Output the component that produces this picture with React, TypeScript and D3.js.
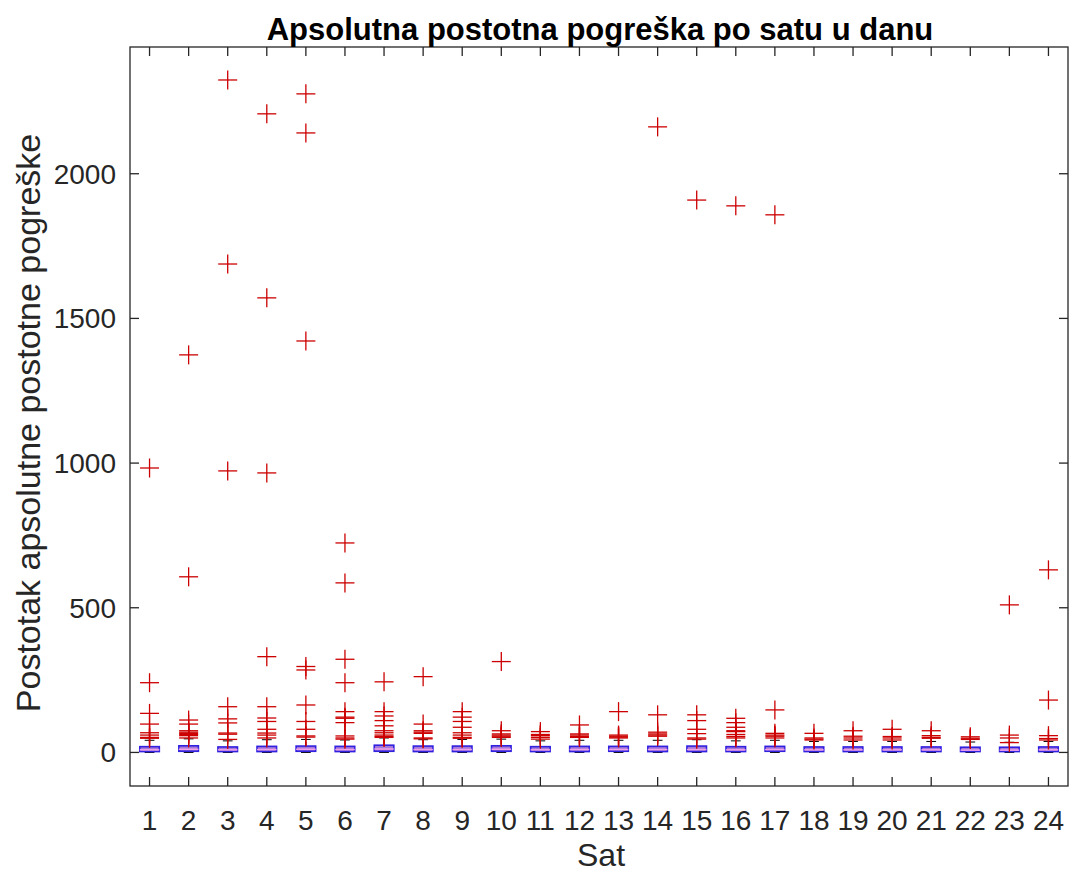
import React from "react";
import * as d3 from "d3";

const hours = Array.from({ length: 24 }, (_, i) => i + 1);
const q1 = [3, 4, 3, 3, 4, 3, 4, 3, 3, 4, 3, 3, 4, 3, 3, 3, 4, 3, 3, 3, 3, 3, 3, 3];
const medians = [9, 11, 9, 10, 11, 10, 12, 10, 10, 11, 9, 10, 10, 10, 10, 9, 10, 9, 9, 9, 9, 8, 8, 9];
const q3 = [20, 23, 19, 21, 22, 21, 25, 22, 22, 23, 20, 21, 21, 21, 22, 20, 21, 19, 19, 19, 19, 18, 18, 19];
const whiskerLow = [0, 0, 0, 0, 0, 0, 0, 0, 0, 0, 0, 0, 0, 0, 0, 0, 0, 0, 0, 0, 0, 0, 0, 0];
const whiskerHigh = [42, 47, 40, 44, 45, 43, 50, 44, 45, 46, 40, 42, 42, 42, 44, 40, 42, 38, 38, 38, 38, 36, 35, 38];
const outliers: number[][] = [
  [983, 241, 135, 98, 68, 60, 52, 49],
  [1374, 607, 112, 98, 75, 70, 66, 62, 58, 50],
  [2324, 1688, 973, 158, 116, 102, 67, 63, 45],
  [2207, 1571, 966, 331, 158, 119, 107, 80, 67, 60, 50],
  [2276, 2141, 1422, 297, 285, 164, 107, 80, 57, 53],
  [724, 586, 322, 241, 141, 122, 118, 103, 57, 50, 46],
  [244, 141, 126, 110, 92, 75, 68, 60, 55, 52],
  [262, 98, 75, 70, 66, 50, 47],
  [141, 122, 107, 87, 68, 60, 52, 49],
  [314, 75, 64, 60, 56, 52],
  [72, 62, 58, 52, 46],
  [95, 64, 60, 55, 52],
  [141, 60, 56, 53, 50],
  [2162, 130, 70, 64, 60, 56],
  [1909, 130, 110, 80, 65, 50, 46],
  [1889, 118, 103, 87, 75, 72, 62, 55, 50],
  [1858, 147, 66, 60, 56, 50],
  [66, 50, 46, 43],
  [75, 56, 50, 43],
  [80, 55, 50, 43],
  [75, 58, 52, 49],
  [54, 49, 45],
  [510, 60, 50, 34],
  [631, 181, 58, 48, 43],
];
const yTicks = [0, 500, 1000, 1500, 2000];

const title = "Apsolutna postotna pogreška po satu u danu";
const xLabel = "Sat";
const yLabel = "Postotak apsolutne postotne pogreške";

export default function App() {
  const W = 1070;
  const H = 875;
  const left = 130;
  const right = 1068;
  const top = 47;
  const bottom = 786;
  const x = d3.scaleLinear().domain([0.5, 24.5]).range([left, right]);
  const y = d3.scaleLinear().domain([-116, 2438]).range([bottom, top]);
  const font = "'Liberation Sans', Arial, Helvetica, sans-serif";
  const boxW = (x(2) - x(1)) * 0.5;
  const capW = boxW * 0.5;
  const tick = 9;
  const ms = 9.5;
  const outColor = "#cc0000";

  return (
    <svg
      width={W}
      height={H}
      style={{ position: "absolute", left: 0, top: 0, background: "#fff" }}
      fontFamily={font}
    >
      <rect x={0} y={0} width={W} height={H} fill="#fff" />
      {hours.map((h, i) => {
        const cx = x(h);
        return (
          <g key={h}>
            <line x1={cx} x2={cx} y1={y(q3[i])} y2={y(whiskerHigh[i])} stroke="#000" strokeDasharray="4,3" />
            <line x1={cx} x2={cx} y1={y(q1[i])} y2={y(whiskerLow[i])} stroke="#000" strokeDasharray="4,3" />
            <line x1={cx - capW / 2} x2={cx + capW / 2} y1={y(whiskerHigh[i])} y2={y(whiskerHigh[i])} stroke="#000" />
            <line x1={cx - capW / 2} x2={cx + capW / 2} y1={y(whiskerLow[i])} y2={y(whiskerLow[i])} stroke="#000" />
            <rect
              x={cx - boxW / 2}
              y={y(q3[i])}
              width={boxW}
              height={y(q1[i]) - y(q3[i])}
              fill="#a47ad8"
              stroke="#3020e0"
              strokeWidth={1.6}
            />
            <line x1={cx - boxW / 2} x2={cx + boxW / 2} y1={y(medians[i])} y2={y(medians[i])} stroke="#f2a0e8" strokeWidth={1.5} />
            {outliers[i].map((v, j) => (
              <g key={j} stroke={outColor} strokeWidth={1.3}>
                <line x1={cx - ms} x2={cx + ms} y1={y(v)} y2={y(v)} />
                <line x1={cx} x2={cx} y1={y(v) - ms} y2={y(v) + ms} />
              </g>
            ))}
          </g>
        );
      })}
      <rect x={left} y={top} width={right - left} height={bottom - top} fill="none" stroke="#262626" strokeWidth={1.3} />
      {hours.map((h) => (
        <g key={"xt" + h} stroke="#262626" strokeWidth={1.3}>
          <line x1={x(h)} x2={x(h)} y1={bottom} y2={bottom - tick} />
          <line x1={x(h)} x2={x(h)} y1={top} y2={top + tick} />
        </g>
      ))}
      {yTicks.map((t) => (
        <g key={"yt" + t} stroke="#262626" strokeWidth={1.3}>
          <line x1={left} x2={left + tick} y1={y(t)} y2={y(t)} />
          <line x1={right} x2={right - tick} y1={y(t)} y2={y(t)} />
        </g>
      ))}
      {hours.map((h) => (
        <text key={"xl" + h} x={x(h)} y={830} textAnchor="middle" fontSize={28} fill="#262626">
          {h}
        </text>
      ))}
      {yTicks.map((t) => (
        <text key={"yl" + t} x={left - 14} y={y(t) + 10} textAnchor="end" fontSize={28} fill="#262626">
          {t}
        </text>
      ))}
      <text x={(left + right) / 2 + 1} y={40} textAnchor="middle" fontSize={31} fontWeight="bold" fill="#000">
        {title}
      </text>
      <text x={(left + right) / 2 + 2} y={866} textAnchor="middle" fontSize={32} fill="#262626">
        {xLabel}
      </text>
      <text
        transform={`translate(40, 423) rotate(-90)`}
        textAnchor="middle"
        fontSize={34}
        fill="#262626"
      >
        {yLabel}
      </text>
    </svg>
  );
}
